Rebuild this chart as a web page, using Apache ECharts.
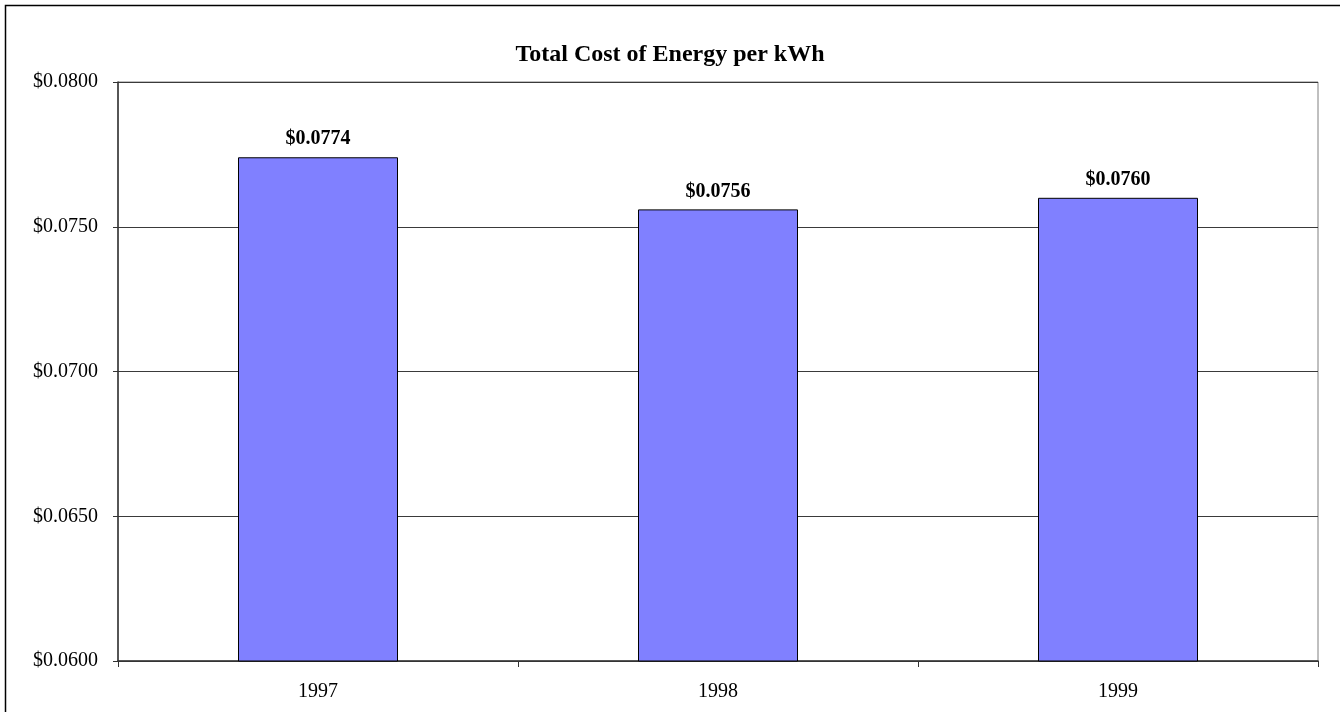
<!DOCTYPE html>
<html>
<head>
<meta charset="utf-8">
<title>Total Cost of Energy per kWh</title>
<script src="https://cdn.jsdelivr.net/npm/echarts@6/dist/echarts.min.js"></script>
<style>
  html, body { margin: 0; padding: 0; background: #ffffff; }
  #chart { width: 1340px; height: 712px; }
</style>
</head>
<body>
<div id="chart"></div>
<script>
// Annual cost of energy per kWh
const categories = ['1997', '1998', '1999'];
const costPerKWh = [0.0774, 0.0756, 0.0760];

// Value axis range and step
const yMin = 0.0600;
const yMax = 0.0800;
const yStep = 0.0050;

const serif = "'Liberation Serif', 'Times New Roman', serif";
const money = v => '$' + Number(v).toFixed(4);

const chart = echarts.init(document.getElementById('chart'), null, { renderer: 'canvas' });

chart.setOption({
  backgroundColor: '#ffffff',
  animation: false,
  textStyle: { fontFamily: serif },
  title: {
    text: 'Total Cost of Energy per kWh',
    left: 'center',
    top: 38,
    textStyle: { fontFamily: serif, fontSize: 24, fontWeight: 'bold', color: '#000' }
  },
  graphic: [{
    type: 'rect',
    shape: { x: 5.5, y: 5.5, width: 1400, height: 800 },
    style: { fill: 'none', stroke: '#000', lineWidth: 1.5 },
    silent: true,
    z: 100
  }],
  grid: {
    left: 118, right: 22, top: 82, bottom: 51,
    show: true, borderColor: '#808080', borderWidth: 1,
    containLabel: false
  },
  xAxis: {
    type: 'category',
    data: categories,
    boundaryGap: true,
    axisLine: { show: true, lineStyle: { color: '#333', width: 1.5 } },
    axisTick: { show: true, inside: false, length: 6, lineStyle: { color: '#333' } },
    axisLabel: { margin: 21, fontFamily: serif, fontSize: 20, color: '#000' },
    splitLine: { show: false }
  },
  yAxis: {
    type: 'value',
    min: yMin,
    max: yMax,
    interval: yStep,
    axisLine: { show: true, lineStyle: { color: '#333', width: 1.5 } },
    axisTick: { show: true, inside: false, length: 5, lineStyle: { color: '#333' } },
    axisLabel: {
      margin: 20, fontFamily: serif, fontSize: 20, color: '#000',
      formatter: money
    },
    splitLine: { show: true, lineStyle: { color: '#3a3a3a', width: 1 } }
  },
  series: [{
    type: 'bar',
    data: costPerKWh,
    barWidth: '40%',
    itemStyle: { color: '#8080FF', borderColor: '#000', borderWidth: 1 },
    label: {
      show: true,
      position: 'top',
      distance: 8,
      fontFamily: serif,
      fontSize: 20,
      fontWeight: 'bold',
      color: '#000',
      formatter: p => money(p.value)
    }
  }]
});
</script>
</body>
</html>
